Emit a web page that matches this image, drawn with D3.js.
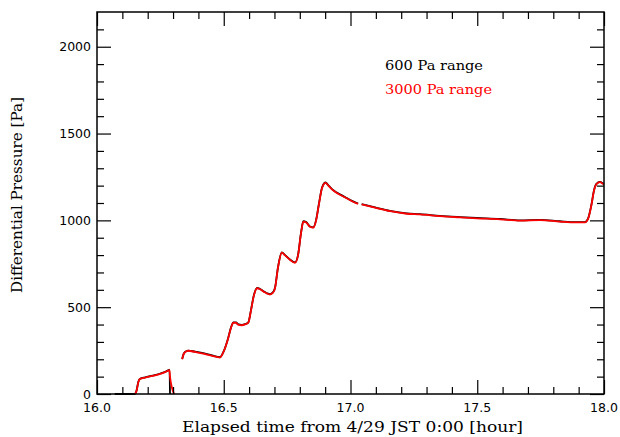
<!DOCTYPE html>
<html>
<head>
<meta charset="utf-8">
<script src="https://cdn.jsdelivr.net/npm/d3@7"></script>
<style>
  html, body { margin: 0; padding: 0; background: #fff; }
  svg { display: block; }
</style>
</head>
<body>
<svg id="chart" width="620" height="437"></svg>
<script>
// Elapsed time [hour] of each sample; null entries in the value arrays break the line
const times = [
  16.070, 16.150, 16.156, 16.163, 16.170, 16.190, 16.220, 16.250, 16.270, 16.283, 16.286, 16.288, 16.304,
  16.320,
  16.336, 16.343, 16.354, 16.360, 16.387, 16.419, 16.454, 16.485, 16.501, 16.517, 16.529, 16.538,
  16.549, 16.556, 16.571, 16.584, 16.597, 16.607, 16.619, 16.632, 16.643, 16.659, 16.671, 16.682,
  16.694, 16.702, 16.714, 16.729, 16.742, 16.761, 16.781, 16.793, 16.805, 16.814, 16.825, 16.840,
  16.853, 16.864, 16.876, 16.888, 16.902, 16.911, 16.927, 16.946, 16.978, 17.006, 17.030,
  17.036,
  17.044, 17.097, 17.156, 17.222, 17.274, 17.353, 17.432, 17.498, 17.590, 17.669, 17.748, 17.826,
  17.886, 17.925, 17.937, 17.951, 17.960, 17.970, 17.984, 17.997, 18.000
];

// 600 Pa range sensor [Pa]
const range600 = [
  0, 0, 20, 70, 88, 96, 106, 118, 128, 138, 140, 0, null,
  null,
  202, 235, 248, 250, 244, 235, 222, 212, 250, 320, 385, 413,
  412, 402, 398, 402, 413, 480, 570, 611, 605, 590, 580, 575,
  585, 610, 730, 816, 800, 775, 758, 800, 930, 995, 990, 965,
  960, 1000, 1100, 1190, 1218, 1205, 1180, 1160, 1135, 1112, 1097,
  null,
  1094, 1075, 1055, 1040, 1036, 1026, 1019, 1014, 1008, 1000, 1003, 995,
  990, 990, 1010, 1095, 1170, 1210, 1222, 1212, 1210
];

// 3000 Pa range sensor [Pa]
const range3000 = [
  null, 0, 18, 68, 87, 95, 104, 116, 127, 136, 138, 100, 0,
  null,
  200, 233, 247, 249, 242, 233, 220, 210, 249, 318, 383, 411,
  410, 400, 396, 401, 411, 478, 568, 609, 603, 588, 578, 573,
  583, 608, 728, 814, 798, 773, 756, 798, 928, 993, 988, 963,
  958, 998, 1098, 1188, 1216, 1203, 1178, 1158, 1133, 1110, 1095,
  null,
  1092, 1073, 1053, 1038, 1034, 1024, 1017, 1012, 1006, 998, 1001, 993,
  988, 988, 1008, 1093, 1168, 1208, 1220, 1210, 1208
];

const xMajor = [16.0, 16.5, 17.0, 17.5, 18.0];
const xMinor = [16.1, 16.2, 16.3, 16.4, 16.6, 16.7, 16.8, 16.9, 17.1, 17.2, 17.3, 17.4,
                17.6, 17.7, 17.8, 17.9];
const yMajor = [0, 500, 1000, 1500, 2000];
const yMinor = [100, 200, 300, 400, 600, 700, 800, 900, 1100, 1200, 1300, 1400,
                1600, 1700, 1800, 1900, 2100];

const seriesNames = ["600 Pa range", "3000 Pa range"];
const seriesColors = ["#000000", "#ff0000"];

const svg = d3.select("#chart");
const margin = { left: 97, right: 16, top: 12, bottom: 43 };
const W = 620, H = 437;

const x = d3.scaleLinear().domain([16.0, 18.0]).range([margin.left, W - margin.right]);
const y = d3.scaleLinear().domain([0, 2200]).range([H - margin.bottom, margin.top]);

const x0 = x.range()[0], x1 = x.range()[1];
const y0 = y.range()[0], y1 = y.range()[1];

// Series lines
const line = d3.line()
  .defined(d => d[1] !== null)
  .x(d => x(d[0]))
  .y(d => y(d[1]))
  .curve(d3.curveMonotoneX);

[range600, range3000].forEach((vals, i) => {
  svg.append("path")
    .datum(times.map((t, k) => [t, vals[k]]))
    .attr("fill", "none")
    .attr("stroke", seriesColors[i])
    .attr("stroke-width", 1.8)
    .attr("stroke-linejoin", "round")
    .attr("d", line);
});

// Axes with ticks on all four sides, pointing inward
const majorLen = 14, minorLen = 7;
const tickFmt = d3.format(".1f");

function axisPair(axisFn, scale, majors, minors, tx, ty) {
  const gMaj = svg.append("g").attr("transform", `translate(${tx},${ty})`)
    .call(axisFn(scale).tickValues(majors).tickSize(majorLen).tickFormat(""));
  const gMin = svg.append("g").attr("transform", `translate(${tx},${ty})`)
    .call(axisFn(scale).tickValues(minors).tickSize(minorLen).tickFormat(""));
  [gMaj, gMin].forEach(g => {
    g.select(".domain").remove();
    g.selectAll("line").attr("stroke", "#000").attr("stroke-width", 1.2);
  });
}

// bottom axis: ticks point up
axisPair(d3.axisTop, x, xMajor, xMinor, 0, y0);
// top axis: ticks point down
axisPair(d3.axisBottom, x, xMajor, xMinor, 0, y1);
// left axis: ticks point right
axisPair(d3.axisRight, y, yMajor, yMinor, x0, 0);
// right axis: ticks point left
axisPair(d3.axisLeft, y, yMajor, yMinor, x1, 0);

// Frame
svg.append("rect")
  .attr("x", x0).attr("y", y1)
  .attr("width", x1 - x0).attr("height", y0 - y1)
  .attr("fill", "none").attr("stroke", "#000").attr("stroke-width", 1.5);

// Tick labels
const labelFont = "'DejaVu Sans', sans-serif";
svg.append("g").selectAll("text").data(xMajor).join("text")
  .attr("x", d => x(d)).attr("y", y0 + 18)
  .attr("text-anchor", "middle")
  .attr("font-family", labelFont).attr("font-size", 12.5)
  .text(d => tickFmt(d));

svg.append("g").selectAll("text").data(yMajor).join("text")
  .attr("x", x0 - 6).attr("y", d => y(d) + 4.5)
  .attr("text-anchor", "end")
  .attr("font-family", labelFont).attr("font-size", 12.5)
  .text(d => d);

// Axis titles
const titleFont = "'DejaVu Serif', 'Liberation Serif', serif";
svg.append("text")
  .attr("x", (x0 + x1) / 2 + 2).attr("y", 432)
  .attr("text-anchor", "middle")
  .attr("font-family", titleFont).attr("font-size", 15.5)
  .attr("textLength", 341).attr("lengthAdjust", "spacingAndGlyphs")
  .text("Elapsed time from 4/29 JST 0:00 [hour]");

svg.append("text")
  .attr("transform", `translate(22,${(y0 + y1) / 2 - 8}) rotate(-90)`)
  .attr("text-anchor", "middle")
  .attr("font-family", titleFont).attr("font-size", 15.5)
  .attr("textLength", 196).attr("lengthAdjust", "spacingAndGlyphs")
  .text("Differential Pressure [Pa]");

// Legend
const legendWidths = [98, 107];
seriesNames.forEach((name, i) => {
  svg.append("text")
    .attr("x", 385).attr("y", 70 + i * 24)
    .attr("font-family", titleFont).attr("font-size", 13.5)
    .attr("fill", seriesColors[i])
    .attr("textLength", legendWidths[i]).attr("lengthAdjust", "spacingAndGlyphs")
    .text(name);
});
</script>
</body>
</html>
